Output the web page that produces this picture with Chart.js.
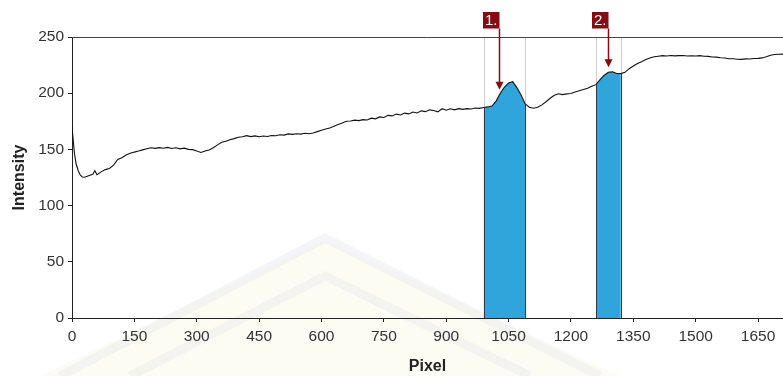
<!DOCTYPE html>
<html>
<head>
<meta charset="utf-8">
<script src="https://cdn.jsdelivr.net/npm/chart.js@4/dist/chart.umd.min.js"></script>
<style>
  html, body { margin: 0; padding: 0; background: #ffffff; }
  #wrap { position: relative; width: 783px; height: 376px; }
</style>
</head>
<body>
<div id="wrap"><canvas id="profile" width="783" height="376"></canvas></div>
<script>
// Intensity profile along the scan line (pixel position -> intensity)
const pixel = [
  0, 3, 6, 10, 15, 20, 25, 30, 40, 50, 55, 60, 70, 80, 90, 100, 110, 120, 130, 140,
  150, 160, 170, 180, 190, 200, 210, 220, 230, 240, 250, 260, 270, 280, 290, 300,
  310, 320, 330, 340, 350, 360, 370, 380, 390, 400, 410, 420, 430, 440, 450, 460,
  470, 480, 490, 500, 510, 520, 530, 540, 550, 560, 570, 580, 590, 600, 610, 620,
  630, 640, 650, 660, 670, 680, 690, 700, 710, 720, 730, 740, 750, 760, 770, 780,
  790, 800, 810, 820, 830, 840, 850, 860, 870, 880, 890, 900, 910, 920, 930, 940,
  950, 960, 970, 980, 990, 1000, 1010, 1020, 1030, 1040, 1050, 1060, 1070, 1080,
  1090, 1100, 1110, 1120, 1130, 1140, 1150, 1160, 1170, 1180, 1190, 1200, 1210,
  1220, 1230, 1240, 1250, 1260, 1270, 1280, 1290, 1300, 1310, 1320, 1330, 1340,
  1350, 1360, 1370, 1380, 1390, 1400, 1410, 1420, 1430, 1440, 1450, 1460, 1470,
  1480, 1490, 1500, 1510, 1520, 1530, 1540, 1550, 1560, 1570, 1580, 1590, 1600,
  1610, 1620, 1630, 1640, 1650, 1660, 1670, 1680, 1690, 1700, 1710
];
const intensity = [
  170, 158, 146, 137, 131, 127, 125.5, 125.2, 126.5, 127.8, 131, 127.5, 130, 132, 133, 136, 141, 142.5, 145, 146.5,
  147.6, 148.5, 149.6, 150.5, 151.4, 150.9, 151.6, 151, 151.8, 150.8, 151.4, 150.5, 151.1, 150, 149.8, 148.5,
  147.3, 148.6, 149.4, 151.5, 154, 156.3, 157.2, 158.6, 159.6, 160.8, 161.3, 162.2, 161.4, 162, 161.2, 161.9,
  161.5, 162.3, 162.1, 163, 162.7, 163.8, 163.4, 163.9, 163.6, 164.4, 163.9, 164.6, 165.8, 167, 168.2, 169,
  170.6, 172.2, 173.4, 175, 175.2, 176, 175.6, 176.5, 176.2, 177.8, 177.2, 178.9, 178.4, 180.3, 179.8, 181.4,
  180.6, 182.3, 181.6, 183.2, 182.4, 184.3, 183.6, 185.2, 184.6, 183.4, 186.2, 184.8, 186.1, 185.2, 186.3, 185.6,
  186.3, 185.9, 186.8, 186.5, 187.3, 187.8, 188.6, 193, 200, 205.5, 209, 210.2, 205, 198.5,
  190.5, 187.5, 186.6, 187.5, 189.6, 192.4, 195.5, 198.2, 199.5, 198.7, 199.4, 199.8, 201,
  202.2, 203.3, 204.4, 206.2, 207.6, 212, 216, 218.6, 219, 217.5, 217.4, 218.6, 221.8,
  224.2, 226.5, 228, 230, 231.4, 232.4, 232.9, 233.4, 233.1, 233.5, 233.2, 233.4, 233.6,
  233.1, 233.3, 233.1, 233.4, 232.9, 232.8, 232.2, 232.1, 231.5, 231.3, 230.6, 230.7, 230.2,
  230.1, 230.5, 230.4, 230.9, 231, 231.4, 232.5, 233.8, 234.4, 234.6, 234.8
];

// Integrated peak windows (pixel ranges)
const peakStart = [990, 1260];
const peakEnd = [1090, 1320];

// Peak markers
const markerLabel = ['1.', '2.'];
const markerPixel = [1027, 1290];
const markerTip = [203, 223];

// Axis ticks
const xTicks = [0, 150, 300, 450, 600, 750, 900, 1050, 1200, 1350, 1500, 1650];
const yTicks = [0, 50, 100, 150, 200, 250];

const FONT = '"Liberation Sans", Arial, sans-serif';
const points = pixel.map((p, i) => ({ x: p, y: intensity[i] }));
const valueAt = (p) => intensity[pixel.indexOf(p)];

const peakSets = peakStart.map((s, k) => ({
  type: 'line',
  data: points.filter(pt => pt.x >= s && pt.x <= peakEnd[k]),
  borderWidth: 0,
  pointRadius: 0,
  backgroundColor: '#30a5db',
  fill: 'origin',
  tension: 0,
  order: 2
}));

// Faint background emblem behind the plot
const emblem = {
  id: 'emblem',
  beforeDraw(chart) {
    const { ctx } = chart;
    ctx.save();
    ctx.fillStyle = 'rgba(250, 244, 214, 0.3)';
    ctx.beginPath();
    ctx.moveTo(325, 240);
    ctx.lineTo(620, 376);
    ctx.lineTo(40, 376);
    ctx.closePath();
    ctx.fill();
    ctx.strokeStyle = 'rgba(215, 220, 232, 0.28)';
    ctx.lineWidth = 9;
    ctx.beginPath();
    ctx.moveTo(60, 376);
    ctx.lineTo(325, 238);
    ctx.lineTo(600, 376);
    ctx.stroke();
    ctx.beginPath();
    ctx.moveTo(130, 376);
    ctx.lineTo(325, 276);
    ctx.lineTo(530, 376);
    ctx.stroke();
    ctx.restore();
  }
};

// Boundary lines of the peak windows, frame top line and peak markers
const overlay = {
  id: 'overlay',
  beforeDatasetsDraw(chart) {
    const { ctx, chartArea, scales: { x, y } } = chart;
    ctx.save();
    ctx.strokeStyle = '#cfcfcf';
    ctx.lineWidth = 1;
    [...peakStart, ...peakEnd].forEach(p => {
      const px = Math.round(x.getPixelForValue(p)) + 0.5;
      ctx.beginPath();
      ctx.moveTo(px, chartArea.top);
      ctx.lineTo(px, y.getPixelForValue(valueAt(p)));
      ctx.stroke();
    });
    ctx.restore();
  },
  afterDatasetsDraw(chart) {
    const { ctx, chartArea, scales: { x, y } } = chart;
    ctx.save();
    ctx.strokeStyle = '#2b3a4e';
    ctx.lineWidth = 1;
    [...peakStart, ...peakEnd].forEach(p => {
      const px = Math.round(x.getPixelForValue(p)) + 0.5;
      ctx.beginPath();
      ctx.moveTo(px, y.getPixelForValue(0));
      ctx.lineTo(px, y.getPixelForValue(valueAt(p)));
      ctx.stroke();
    });
    ctx.strokeStyle = '#444444';
    ctx.beginPath();
    ctx.moveTo(chartArea.left, chartArea.top + 0.5);
    ctx.lineTo(chart.width, chartArea.top + 0.5);
    ctx.stroke();

    markerPixel.forEach((m, k) => {
      const ax = Math.round(x.getPixelForValue(m)) + 0.5;
      const tip = y.getPixelForValue(markerTip[k]);
      const boxTop = 12, boxH = 16.5, boxW = 16.5;
      ctx.fillStyle = '#870b10';
      ctx.fillRect(ax - boxW, boxTop, boxW, boxH);
      ctx.strokeStyle = '#870b10';
      ctx.lineWidth = 1.5;
      ctx.beginPath();
      ctx.moveTo(ax, boxTop + boxH);
      ctx.lineTo(ax, tip - 7);
      ctx.stroke();
      ctx.beginPath();
      ctx.moveTo(ax - 4, tip - 8);
      ctx.lineTo(ax + 4, tip - 8);
      ctx.lineTo(ax, tip);
      ctx.closePath();
      ctx.fill();
      ctx.fillStyle = '#ffffff';
      ctx.font = '15px ' + FONT;
      ctx.textAlign = 'center';
      ctx.textBaseline = 'middle';
      ctx.fillText(markerLabel[k], ax - boxW / 2, boxTop + boxH / 2 + 1);
    });
    ctx.restore();
  }
};

new Chart(document.getElementById('profile'), {
  type: 'line',
  data: {
    datasets: [
      {
        data: points,
        borderColor: '#111111',
        borderWidth: 1.1,
        pointRadius: 0,
        tension: 0,
        fill: false,
        order: 0
      },
      ...peakSets
    ]
  },
  options: {
    responsive: false,
    animation: false,
    events: [],
    layout: { padding: { top: 37, right: 0, left: 0, bottom: 0 } },
    plugins: { legend: { display: false }, tooltip: { enabled: false } },
    scales: {
      x: {
        type: 'linear',
        min: 0,
        max: 1710,
        afterBuildTicks: (axis) => { axis.ticks = xTicks.map(v => ({ value: v })); },
        afterFit: (s) => { s.height = 58; },
        ticks: { color: '#333333', font: { family: FONT, size: 15.5 }, padding: 5, maxRotation: 0, autoSkip: false, callback: (v) => String(v) },
        grid: { display: true, drawOnChartArea: false, drawTicks: true, tickLength: 4, color: '#222222' },
        border: { display: true, color: '#222222', width: 1 },
        title: { display: true, text: 'Pixel', color: '#222222', font: { family: FONT, size: 16, weight: 'bold' }, padding: { top: 2, bottom: 0 } }
      },
      y: {
        type: 'linear',
        min: 0,
        max: 250,
        afterBuildTicks: (axis) => { axis.ticks = yTicks.map(v => ({ value: v })); },
        afterFit: (s) => { s.width = 72; },
        ticks: { color: '#333333', font: { family: FONT, size: 15.5 }, padding: 4, callback: (v) => String(v) },
        grid: { display: true, drawOnChartArea: false, drawTicks: true, tickLength: 4, color: '#222222' },
        border: { display: true, color: '#222222', width: 1 },
        title: { display: true, text: 'Intensity', color: '#222222', font: { family: FONT, size: 16, weight: 'bold' }, padding: { top: 10, bottom: 0 } }
      }
    }
  },
  plugins: [emblem, overlay]
});
</script>
</body>
</html>
